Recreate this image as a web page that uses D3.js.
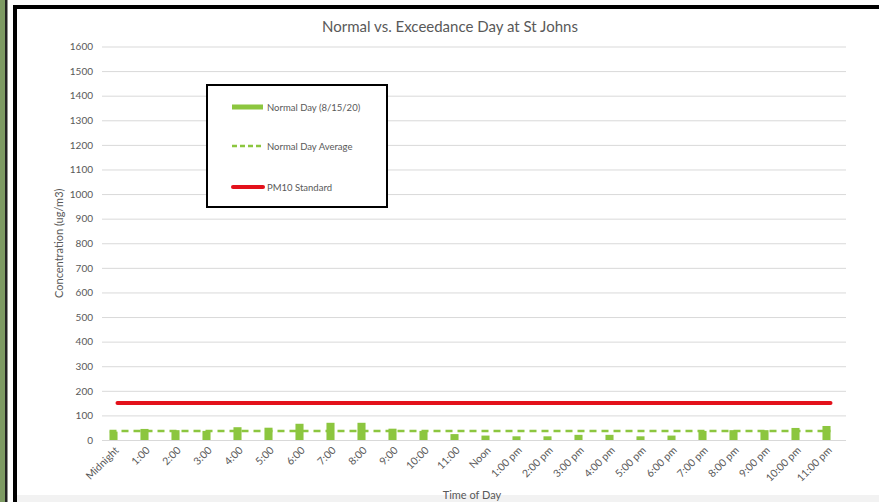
<!DOCTYPE html>
<html>
<head>
<meta charset="utf-8">
<script src="https://cdn.jsdelivr.net/npm/d3@7/dist/d3.min.js"></script>
<style>
  html, body { margin: 0; padding: 0; background: #ffffff; }
  svg { display: block; }
  text { font-family: Lato, "Open Sans", sans-serif; }
</style>
</head>
<body>
<svg id="chart" width="879" height="502"></svg>
<script>
// ---- data ----
const hours = ["Midnight","1:00","2:00","3:00","4:00","5:00","6:00","7:00","8:00","9:00","10:00","11:00",
  "Noon","1:00 pm","2:00 pm","3:00 pm","4:00 pm","5:00 pm","6:00 pm","7:00 pm","8:00 pm","9:00 pm","10:00 pm","11:00 pm"];
const normalDay = [34,45,40,37,52,50,66,70,70,46,37,24,18,15,15,21,21,15,18,37,40,40,49,57];
const normalDayAverage = 37;
const pm10Standard = 150;
const yTicks = [0,100,200,300,400,500,600,700,800,900,1000,1100,1200,1300,1400,1500,1600];
const legendLabels = ["Normal Day (8/15/20)","Normal Day Average","PM10 Standard"];

// ---- layout ----
const W = 879, H = 502;
const plot = { left: 98, right: 842, top: 46.5, bottom: 440 };
const green = "#8cc63f";
const red = "#e3111b";
const textGrey = "#595959";

const svg = d3.select("#chart");

// outer decoration
svg.append("rect").attr("x",0).attr("y",0).attr("width",5).attr("height",H).attr("fill","#7d9a63");
svg.append("rect").attr("x",5).attr("y",0).attr("width",2.5).attr("height",H).attr("fill","#222");
svg.append("rect").attr("x",17).attr("y",495).attr("width",W-17).attr("height",7).attr("fill","#f2f2f2");
svg.append("rect").attr("x",13).attr("y",5).attr("width",W-13).attr("height",4).attr("fill","#000");
svg.append("rect").attr("x",13).attr("y",5).attr("width",4).attr("height",H-5).attr("fill","#000");

// scales
const x = d3.scaleBand().domain(hours).range([plot.left, plot.right]).paddingInner(0.74).paddingOuter(0.37);
const y = d3.scaleLinear().domain([0,1600]).range([plot.bottom, plot.top]);
const cx = d => x(d) + x.bandwidth()/2;

// gridlines
const yAxis = d3.axisLeft(y).tickValues(yTicks).tickSize(-(plot.right + 4 - plot.left - 4)).tickPadding(9).tickFormat(d3.format("d"));
const gy = svg.append("g").attr("transform", `translate(${plot.left + 4},0)`).call(yAxis);
gy.select(".domain").remove();
gy.selectAll(".tick line").attr("stroke","#d9d9d9").attr("stroke-width",1);
gy.selectAll(".tick text").attr("fill",textGrey).attr("font-size","10px").attr("font-family","Lato, sans-serif");

// bars
svg.append("g").selectAll("rect").data(normalDay).join("rect")
  .attr("x",(d,i)=>x(hours[i]))
  .attr("y",d=>y(d))
  .attr("width",x.bandwidth())
  .attr("height",d=>y(0)-y(d))
  .attr("fill",green);

// average dashed line
svg.append("line")
  .attr("x1", cx(hours[0]) - 4).attr("x2", cx(hours[hours.length-1]) + 4)
  .attr("y1", y(normalDayAverage)).attr("y2", y(normalDayAverage))
  .attr("stroke", green).attr("stroke-width", 2.5).attr("stroke-dasharray","7,5");

// standard line
svg.append("line")
  .attr("x1", cx(hours[0]) + 4).attr("x2", cx(hours[hours.length-1]) + 4)
  .attr("y1", y(pm10Standard)).attr("y2", y(pm10Standard))
  .attr("stroke", red).attr("stroke-width", 4).attr("stroke-linecap","round");

// x labels
svg.append("g").selectAll("text").data(hours).join("text")
  .attr("transform", d => `translate(${cx(d)+6},${plot.bottom+11}) rotate(-45)`)
  .attr("text-anchor","end")
  .attr("fill",textGrey)
  .attr("font-size","10.5px")
  .text(d=>d);

// titles
svg.append("text").attr("x",450).attr("y",32).attr("text-anchor","middle")
  .attr("fill",textGrey).attr("font-size","15px").text("Normal vs. Exceedance Day at St Johns");
svg.append("text").attr("x",(plot.left+plot.right)/2 + 2).attr("y",499).attr("text-anchor","middle")
  .attr("fill",textGrey).attr("font-size","11px").text("Time of Day");
svg.append("text").attr("transform",`translate(63,${(plot.top+plot.bottom)/2}) rotate(-90)`)
  .attr("text-anchor","middle").attr("fill",textGrey).attr("font-size","11px").text("Concentration (ug/m3)");

// legend
const lg = svg.append("g");
lg.append("rect").attr("x",207).attr("y",85).attr("width",180).attr("height",122)
  .attr("fill","#fff").attr("stroke","#000").attr("stroke-width",2);
const rows = [107, 146, 187];
lg.append("rect").attr("x",232).attr("y",rows[0]-2.5).attr("width",31).attr("height",5).attr("fill",green);
lg.append("line").attr("x1",232).attr("x2",263).attr("y1",rows[1]).attr("y2",rows[1])
  .attr("stroke",green).attr("stroke-width",2.5).attr("stroke-dasharray","5,3");
lg.append("line").attr("x1",233).attr("x2",263).attr("y1",rows[2]).attr("y2",rows[2])
  .attr("stroke",red).attr("stroke-width",4).attr("stroke-linecap","round");
lg.selectAll("text.lab").data(legendLabels).join("text")
  .attr("class","lab")
  .attr("x",267).attr("y",(d,i)=>rows[i]+3.5)
  .attr("fill",textGrey).attr("font-size","9.5px")
  .text(d=>d);
</script>
</body>
</html>
